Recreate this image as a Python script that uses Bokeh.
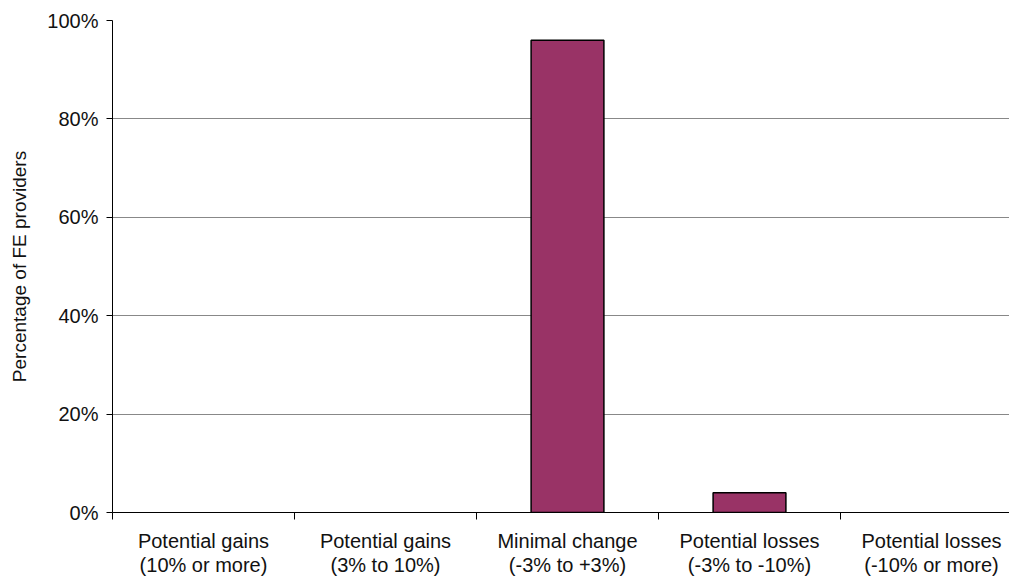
from bokeh.plotting import figure
from bokeh.models import FixedTicker, NumeralTickFormatter, Range1d, ColumnDataSource
from bokeh.embed import file_html
from bokeh.resources import INLINE

categories = ["Potential gains\n(10% or more)", "Potential gains\n(3% to 10%)",
              "Minimal change\n(-3% to +3%)", "Potential losses\n(-3% to -10%)",
              "Potential losses\n(-10% or more)"]
values = [0.0, 0.0, 0.96, 0.04, 0.0]
y_ticks = [0, 0.2, 0.4, 0.6, 0.8, 1.0]

centers = [i + 0.5 for i in range(len(categories))]
src = ColumnDataSource(dict(x=centers, top=values,
                            lc=["black" if v > 0 else None for v in values]))

W, H = 1009, 581
left, top, bottom = 112, 20, 69
cat_px = 182.0
x_end = (W - left) / cat_px

p = figure(width=W, height=H, output_backend="svg", toolbar_location=None,
           x_range=Range1d(0, x_end), y_range=Range1d(0, 1.0),
           min_border_left=left, min_border_right=0, min_border_top=top,
           min_border_bottom=bottom)
p.outline_line_color = None
p.background_fill_color = "white"
p.border_fill_color = "white"

p.vbar(x="x", top="top", width=0.4, bottom=0, source=src,
       fill_color="#993366", line_color="lc", line_width=1.5)

# x axis
p.xaxis.ticker = FixedTicker(ticks=centers, minor_ticks=list(range(len(categories) + 1)))
p.xaxis.major_label_overrides = {c: lab for c, lab in zip(centers, categories)}
p.xaxis.major_tick_out = 0
p.xaxis.major_tick_in = 0
p.xaxis.minor_tick_out = 7
p.xaxis.minor_tick_in = 0
p.xaxis.minor_tick_line_color = "black"
p.xaxis.axis_line_color = "black"
p.xaxis.major_label_text_font = "Liberation Sans"
p.xaxis.major_label_text_font_size = "20px"
p.xaxis.major_label_text_color = "#111111"
p.xaxis.major_label_text_line_height = 1.1
p.xaxis.major_label_standoff = 10
p.xgrid.grid_line_color = None

# y axis
p.yaxis.ticker = FixedTicker(ticks=y_ticks, minor_ticks=[])
p.yaxis.formatter = NumeralTickFormatter(format="0%")
p.yaxis.major_tick_out = 6
p.yaxis.major_tick_in = 0
p.yaxis.major_tick_line_color = "black"
p.yaxis.axis_line_color = "black"
p.yaxis.major_label_text_font = "Liberation Sans"
p.yaxis.major_label_text_font_size = "20px"
p.yaxis.major_label_text_color = "#111111"
p.yaxis.major_label_standoff = 8
p.yaxis.axis_label = "Percentage of FE providers"
p.yaxis.axis_label_text_font = "Liberation Sans"
p.yaxis.axis_label_text_font_size = "19px"
p.yaxis.axis_label_text_font_style = "normal"
p.yaxis.axis_label_text_color = "#111111"
p.yaxis.axis_label_standoff = 14
p.ygrid.ticker = FixedTicker(ticks=y_ticks)
p.ygrid.grid_line_color = "#888888"
p.ygrid.grid_line_width = 1

open("out.html", "w").write(file_html(p, INLINE))
